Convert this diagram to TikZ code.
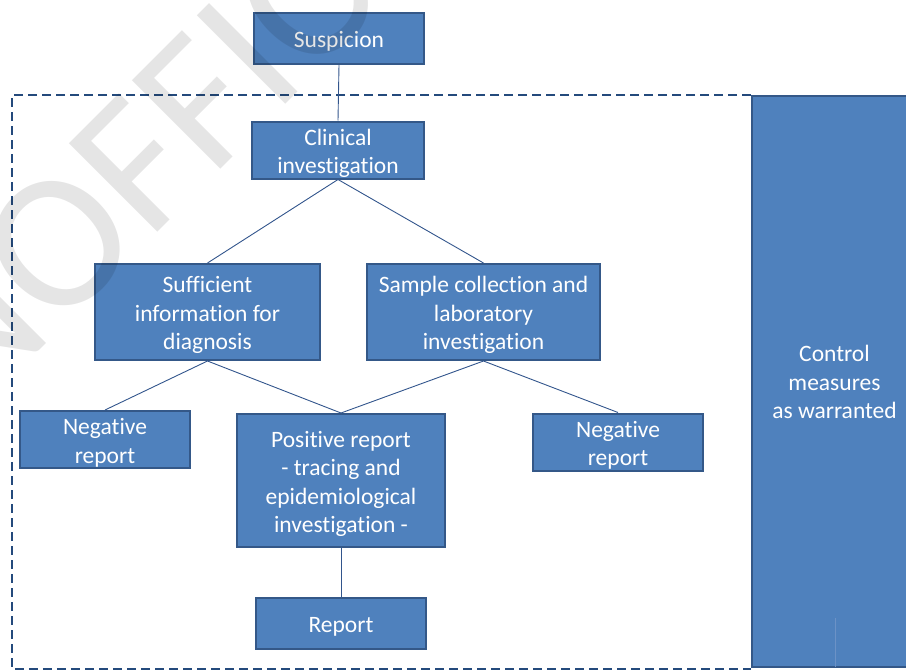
\documentclass[tikz,border=0pt]{standalone}
\usepackage{fontspec}
\setmainfont{Carlito}[Ligatures=NoCommon]
\definecolor{boxfill}{RGB}{79,129,189}
\definecolor{boxline}{RGB}{52,88,136}
\definecolor{linkblue}{RGB}{50,85,140}
\definecolor{framecol}{RGB}{36,74,124}
\definecolor{seamcol}{RGB}{108,146,198}
% centred lines of a box label, drawn slightly below the box centre
\newcommand\boxlines[2][-3.7pt]{\raisebox{#1}[\height][\depth]{\begin{tabular}{@{}c@{}}#2\end{tabular}}}
\begin{document}
\begin{tikzpicture}[x=1pt,y=-1pt,
  box/.style={draw=boxline, fill=boxfill, line width=2pt, text=white,
    inner sep=0pt, font=\fontsize{23.5}{28.5}\selectfont},
  link/.style={draw=linkblue, line width=0.9pt},
  frame/.style={draw=framecol, line width=2pt, dash pattern=on 9pt off 5pt},
  watermarktext/.style={text=black, text opacity=0.1, inner sep=0pt, anchor=base west,
    rotate=45, font=\fontsize{195}{195}\selectfont}]

\useasboundingbox (0,0) rectangle (906,670);

% dashed frame around the investigation steps
\draw[frame] (751,95) -- (12,95) -- (12,669) -- (751,669);

% control measures column
\node[box, minimum width=165pt, minimum height=571pt] (ctrl) at (834.5,381.5)
  {\boxlines[-3pt]{Control\\measures\\as warranted}};
\draw[draw=seamcol, line width=0.8pt] (835,618) -- (835,667);

% flow boxes
\node[box, minimum width=170pt, minimum height=51pt] (susp) at (339,38.5) {\boxlines{Suspicion}};
\node[box, minimum width=172pt, minimum height=52pt] (clin) at (338,150) {\boxlines{Clinical\\investigation}};
\node[box, minimum width=225pt, minimum height=96pt] (suff) at (207.5,312) {\boxlines{Sufficient\\information for\\diagnosis}};
\node[box, minimum width=233pt, minimum height=96pt] (samp) at (483.5,312) {\boxlines{Sample collection and\\laboratory\\investigation}};
\node[box, minimum width=170pt, minimum height=51pt] (negl) at (105,439.5) {\boxlines{Negative\\report}};
\node[box, minimum width=208pt, minimum height=133pt] (pos) at (341,480.5) {\boxlines{Positive report\\- tracing and\\epidemiological\\investigation -}};
\node[box, minimum width=170pt, minimum height=52pt] (negr) at (618,442) {\boxlines{Negative\\report}};
\node[box, minimum width=170pt, minimum height=51pt] (rep) at (341,623.5) {\boxlines{Report}};

% connectors between the boxes
\draw[link] (susp.south) -- (clin.north);
\draw[link] (clin.south) -- (suff.north);
\draw[link] (clin.south) -- (samp.north);
\draw[link] (suff.south) -- (negl.north);
\draw[link] (suff.south) -- (pos.north);
\draw[link] (samp.south) -- (pos.north);
\draw[link] (samp.south) -- (negr.north);
\draw[link] (pos.south) -- (rep.north);

% watermark
\begin{scope}
\clip (0,0) rectangle (906,670);
\node[watermarktext] (wm) at (-121,511) {UNOFFICIAL};
\end{scope}
\end{tikzpicture}
\end{document}
